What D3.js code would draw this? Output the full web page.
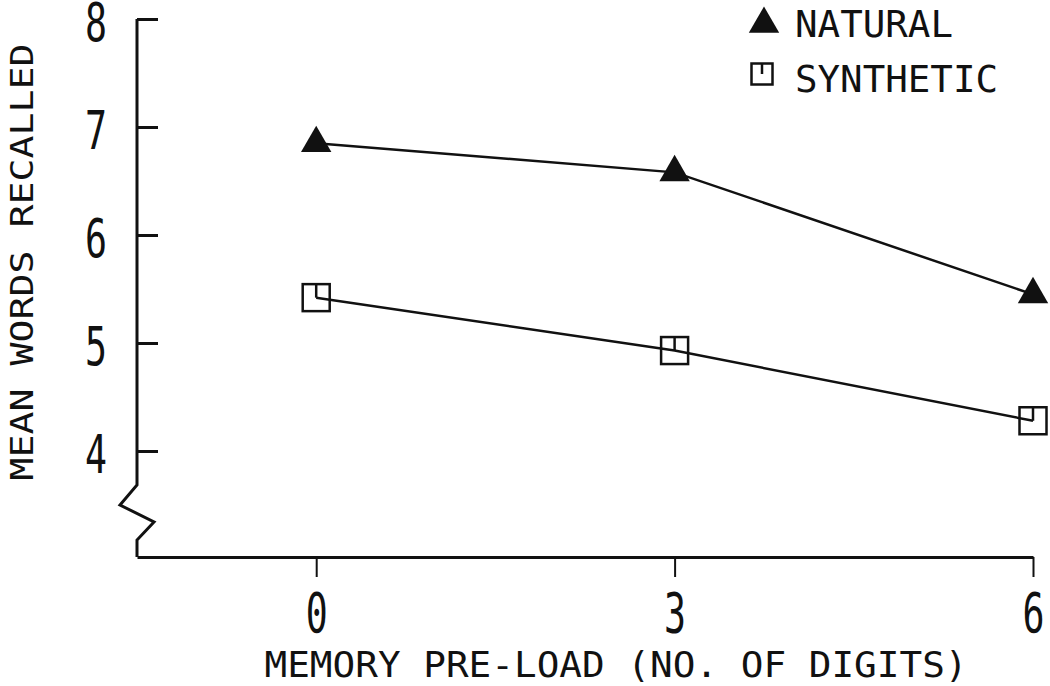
<!DOCTYPE html>
<html><head><meta charset="utf-8">
<script src="https://cdn.jsdelivr.net/npm/d3@7"></script>
<style>body{margin:0;background:#fff}svg{display:block}</style>
</head><body>
<svg id="chart" width="1050" height="686"></svg>
<script>
const preload = [0, 3, 6];
const natural = [6.85, 6.58, 5.45];
const synthetic = [5.42, 4.93, 4.28];
const yTicks = [4, 5, 6, 7, 8];
const xTicks = [0, 3, 6];
const seriesNames = ["NATURAL", "SYNTHETIC"];
const yTitle = "MEAN WORDS RECALLED";
const xTitle = "MEMORY PRE-LOAD (NO. OF DIGITS)";

const svg = d3.select("#chart");
const FONT = "'DejaVu Sans Mono', 'Liberation Mono', monospace";
const ink = "#111";

const x = d3.scaleLinear().domain([-1.5, 6]).range([137, 1033]);
const y = d3.scaleLinear().domain([4, 8]).range([451, 19]);
const axisY = 557;

// Y axis ticks & labels
const gy = svg.append("g").attr("transform", `translate(${x(-1.5)},0)`)
  .call(d3.axisLeft(y).tickValues(yTicks).tickSize(-21).tickPadding(30).tickFormat(d3.format("d")));
gy.select(".domain").remove();
gy.selectAll(".tick line").attr("stroke", ink).attr("stroke-width", 3);
gy.selectAll(".tick text").attr("font-family", FONT).attr("font-size", 53).attr("fill", ink)
  .attr("dy", "0.4em").attr("textLength", 22).attr("lengthAdjust", "spacingAndGlyphs");

// Y axis line with break
const x0 = x(-1.5);
svg.append("path")
  .attr("d", `M${x0},${y(8)} L${x0},485 L${x0-17},505 L${x0+17},522 L${x0},540 L${x0},${axisY}`)
  .attr("fill", "none").attr("stroke", ink).attr("stroke-width", 3).attr("stroke-linejoin", "miter");

// X axis
const gx = svg.append("g").attr("transform", `translate(0,${axisY})`)
  .call(d3.axisBottom(x).tickValues(xTicks).tickSize(20).tickSizeOuter(0).tickPadding(15).tickFormat(d3.format("d")));
gx.select(".domain").attr("stroke", ink).attr("stroke-width", 3);
gx.selectAll(".tick line").attr("stroke", ink).attr("stroke-width", 2);
gx.selectAll(".tick text").attr("font-family", FONT).attr("font-size", 56).attr("fill", ink)
  .attr("textLength", 22).attr("lengthAdjust", "spacingAndGlyphs");

// Axis titles
svg.append("text").attr("transform", "translate(33,262) rotate(-90)")
  .attr("text-anchor", "middle").attr("font-family", FONT).attr("font-size", 32).attr("fill", ink)
  .attr("textLength", 437).attr("lengthAdjust", "spacingAndGlyphs").text(yTitle);
svg.append("text").attr("x", 616).attr("y", 677)
  .attr("text-anchor", "middle").attr("font-family", FONT).attr("font-size", 36).attr("fill", ink)
  .attr("textLength", 703).attr("lengthAdjust", "spacingAndGlyphs").text(xTitle);

// Lines
const line = d3.line().x(d => x(d[0])).y(d => y(d[1]));
[natural, synthetic].forEach(vals => {
  svg.append("path").datum(preload.map((p, i) => [p, vals[i]]))
    .attr("d", line).attr("fill", "none").attr("stroke", ink).attr("stroke-width", 2.5);
});

// Markers
const tri = d3.symbol().type(d3.symbolTriangle).size(400);
svg.selectAll(".tri").data(preload.map((p, i) => [p, natural[i]])).join("path")
  .attr("transform", d => `translate(${x(d[0])},${y(d[1])})`).attr("d", tri).attr("fill", ink);

function square(g, cx, cy, s) {
  g.append("rect").attr("x", cx - s/2).attr("y", cy - s/2).attr("width", s).attr("height", s)
    .attr("fill", "none").attr("stroke", ink).attr("stroke-width", 2.5);
  g.append("line").attr("x1", cx).attr("x2", cx).attr("y1", cy - s/2).attr("y2", cy)
    .attr("stroke", ink).attr("stroke-width", 2.5);
}
preload.forEach((p, i) => square(svg.append("g"), x(p), y(synthetic[i]), 27));

// Legend
const leg = svg.append("g");
leg.append("path").attr("transform", "translate(764,24)").attr("d", tri).attr("fill", ink);
square(leg, 762, 74, 21);
leg.append("text").attr("x", 795).attr("y", 37).attr("font-family", FONT).attr("font-size", 37).attr("fill", ink)
  .attr("textLength", 158).attr("lengthAdjust", "spacingAndGlyphs").text(seriesNames[0]);
leg.append("text").attr("x", 795).attr("y", 92).attr("font-family", FONT).attr("font-size", 37).attr("fill", ink)
  .attr("textLength", 203).attr("lengthAdjust", "spacingAndGlyphs").text(seriesNames[1]);
</script>
</body></html>
